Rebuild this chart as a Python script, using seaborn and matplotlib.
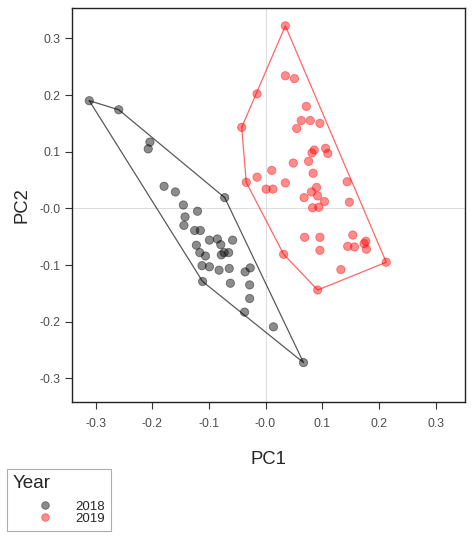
import numpy as np
import pandas as pd
import matplotlib
matplotlib.use("Agg")
import matplotlib.pyplot as plt
import seaborn as sns

# PCA scores
pc1_2018 = [-0.311, -0.259, -0.204, -0.207, -0.179, -0.159, -0.145, -0.120, -0.142, -0.144,
            -0.125, -0.115, -0.072, -0.099, -0.085, -0.079, -0.058, -0.122, -0.116, -0.106,
            -0.078, -0.073, -0.065, -0.112, -0.099, -0.082, -0.064, -0.036, -0.027, -0.111,
            -0.062, -0.028, -0.028, -0.037, 0.014, 0.067]
pc2_2018 = [0.190, 0.174, 0.117, 0.105, 0.039, 0.029, 0.006, -0.005, -0.015, -0.030,
            -0.039, -0.039, 0.019, -0.056, -0.054, -0.064, -0.056, -0.065, -0.078, -0.084,
            -0.082, -0.078, -0.078, -0.101, -0.103, -0.109, -0.106, -0.112, -0.105, -0.129,
            -0.132, -0.135, -0.159, -0.183, -0.209, -0.272]

pc1_2019 = [0.035, -0.015, -0.042, 0.035, 0.051, 0.072, 0.063, 0.079, 0.096, 0.055,
            0.086, 0.106, 0.082, 0.110, 0.049, 0.076, 0.011, 0.084, -0.015, 0.035,
            -0.034, 0.144, 0.001, 0.013, 0.090, 0.081, 0.092, 0.068, 0.104, 0.148,
            0.083, 0.094, 0.069, 0.096, 0.154, 0.177, 0.174, 0.145, 0.157, 0.178,
            0.096, 0.032, 0.133, 0.213, 0.092]
pc2_2019 = [0.322, 0.202, 0.143, 0.234, 0.229, 0.180, 0.155, 0.155, 0.150, 0.141,
            0.103, 0.106, 0.098, 0.097, 0.080, 0.083, 0.067, 0.062, 0.055, 0.045,
            0.046, 0.047, 0.034, 0.034, 0.037, 0.029, 0.022, 0.019, 0.012, 0.011,
            0.001, 0.002, -0.051, -0.051, -0.047, -0.058, -0.062, -0.067, -0.068, -0.072,
            -0.074, -0.081, -0.108, -0.095, -0.144]

years = ['2018', '2019']
year_colors = {'2018': 'black', '2019': 'red'}
tick_values = [-0.3, -0.2, -0.1, 0.0, 0.1, 0.2, 0.3]
tick_labels = ['-0.3', '-0.2', '-0.1', '-0.0', '0.1', '0.2', '0.3']

df = pd.DataFrame({
    'PC1': pc1_2018 + pc1_2019,
    'PC2': pc2_2018 + pc2_2019,
    'Year': ['2018'] * len(pc1_2018) + ['2019'] * len(pc1_2019),
})


def convex_hull(points):
    """Monotone chain convex hull, returns closed list of vertices."""
    pts = sorted(map(tuple, points))

    def cross(o, a, b):
        return (a[0] - o[0]) * (b[1] - o[1]) - (a[1] - o[1]) * (b[0] - o[0])

    lower, upper = [], []
    for p in pts:
        while len(lower) >= 2 and cross(lower[-2], lower[-1], p) <= 0:
            lower.pop()
        lower.append(p)
    for p in reversed(pts):
        while len(upper) >= 2 and cross(upper[-2], upper[-1], p) <= 0:
            upper.pop()
        upper.append(p)
    hull = lower[:-1] + upper[:-1]
    return np.array(hull + [hull[0]])


sns.set_theme(style='white')
plt.rcParams['font.family'] = ['Liberation Sans', 'DejaVu Sans']

fig = plt.figure(figsize=(4.74, 5.36), dpi=100)
ax = fig.add_axes([0.1513, 0.2506, 0.8297, 0.7339])

# zero reference lines
ax.axhline(0, color='#dedede', lw=0.8, zorder=0)
ax.axvline(0, color='#dedede', lw=0.8, zorder=0)

# hulls around each year
for year, alpha in zip(years, [0.65, 0.6]):
    sub = df[df['Year'] == year]
    hull = convex_hull(sub[['PC1', 'PC2']].values)
    ax.plot(hull[:, 0], hull[:, 1], color=year_colors[year], lw=0.9, alpha=alpha, zorder=2)

sns.scatterplot(data=df, x='PC1', y='PC2', hue='Year', hue_order=years,
                palette=year_colors, alpha=0.45, s=36, linewidth=0.6, ax=ax, zorder=3)
for coll in ax.collections:
    coll.set_edgecolor(coll.get_facecolor())

ax.set_xlim(-0.342, 0.352)
ax.set_ylim(-0.341, 0.353)
ax.set_xticks(tick_values, tick_labels)
ax.set_yticks(tick_values, tick_labels)
ax.tick_params(bottom=True, left=True, direction='out', length=4.8, width=0.8,
               color='#333333', labelcolor='#4d4d4d', labelsize=8.8)
ax.tick_params(axis='x', pad=7)
ax.tick_params(axis='y', pad=3)
for sp in ax.spines.values():
    sp.set_color('#222222')
    sp.set_linewidth(1.0)

ax.set_xlabel('PC1', fontsize=13.3, labelpad=15)
ax.set_ylabel('PC2', fontsize=13.3, labelpad=7)

sns.move_legend(ax, 'lower left', bbox_to_anchor=(0.0148, 0.0093),
                bbox_transform=fig.transFigure, title='Year', frameon=True,
                fancybox=False, fontsize=9.5, title_fontsize=13.6,
                handlelength=4.85, handletextpad=-0.15, borderpad=0.45,
                labelspacing=0.0, borderaxespad=0)
leg = ax.get_legend()
leg.get_frame().set_edgecolor('#9a9a9a')
leg.get_frame().set_linewidth(0.8)
leg._legend_box.align = 'left'
leg._legend_box.sep = 6
for h in leg.legend_handles:
    h.set_markeredgecolor(h.get_markerfacecolor())
    h.set_alpha(0.45)
    h.set_markersize(5.5)

fig.savefig('out.png', dpi=100)
